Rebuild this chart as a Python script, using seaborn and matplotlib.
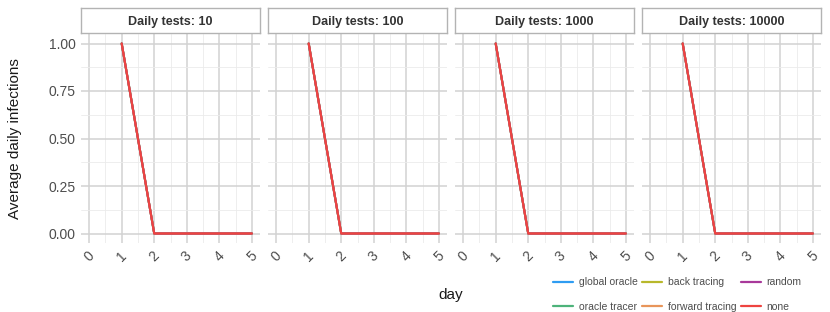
import numpy as np
import pandas as pd
import seaborn as sns
import matplotlib
matplotlib.use("Agg")
import matplotlib.pyplot as plt

sns.set_theme(style="white")
plt.rcParams['font.family'] = ['Liberation Sans', 'DejaVu Sans']

# ---- data ----
daily_tests = [10, 100, 1000, 10000]
strategies = ["global oracle", "oracle tracer", "back tracing", "forward tracing", "random", "none"]
colors = ["#2E9CF2", "#4DB37A", "#B8B82B", "#E8955A", "#A8399A", "#EE4440"]
days = [1, 2, 3, 4, 5]
infections = [1.0, 0.0, 0.0, 0.0, 0.0]
x_ticks = [0, 1, 2, 3, 4, 5]
y_ticks = [0.0, 0.25, 0.5, 0.75, 1.0]

rows = []
for t in daily_tests:
    for s in strategies:
        for d, v in zip(days, infections):
            rows.append({"tests": t, "strategy": s, "day": d, "infections": v})
df = pd.DataFrame(rows)
palette = dict(zip(strategies, colors))

W, H = 830, 312
fig = plt.figure(figsize=(W / 100, H / 100), dpi=100)

panel_left = [81, 268, 455, 642]
pw = 179
ptop, pbot = 34, 243
stop, sbot = 8, 33

for i, (t, pl) in enumerate(zip(daily_tests, panel_left)):
    ax = fig.add_axes([pl / W, 1 - pbot / H, pw / W, (pbot - ptop) / H])
    sub = df[df.tests == t]
    sns.lineplot(data=sub, x="day", y="infections", hue="strategy", hue_order=strategies,
                 palette=palette, ax=ax, linewidth=1.5, legend=False, zorder=3)
    ax.set_xlim(-0.25, 5.25)
    ax.set_ylim(-0.05, 1.05)
    ax.set_xticks(x_ticks)
    ax.set_xticks(np.arange(0.5, 5, 1), minor=True)
    ax.set_yticks(y_ticks)
    ax.set_yticks([0.125, 0.375, 0.625, 0.875], minor=True)
    ax.grid(which="major", color="#D2D2D2", linewidth=1.1, zorder=0)
    ax.grid(which="minor", color="#EBEBEB", linewidth=0.6, zorder=0)
    ax.set_axisbelow(True)
    for sp in ax.spines.values():
        sp.set_visible(False)
    ax.tick_params(which="both", length=0)
    ax.set_xticklabels([str(x) for x in x_ticks], rotation=45, ha="center",
                       fontsize=10, color="#4D4D4D")
    ax.tick_params(axis="x", pad=4)
    if i == 0:
        ax.set_yticklabels(["0.00", "0.25", "0.50", "0.75", "1.00"], fontsize=10, color="#4D4D4D")
        ax.tick_params(axis="y", pad=4)
        ax.set_ylabel("Average daily infections", fontsize=11, color="#1A1A1A", labelpad=19)
    else:
        ax.set_yticklabels([])
        ax.set_ylabel("")
    ax.set_xlabel("")

    # strip
    sax = fig.add_axes([pl / W, 1 - sbot / H, pw / W, (sbot - stop) / H])
    sax.set_xticks([]); sax.set_yticks([])
    sax.set_facecolor("white")
    for sp in sax.spines.values():
        sp.set_visible(True)
        sp.set_color("#B3B3B3")
        sp.set_linewidth(1.0)
    sax.text(0.5, 0.5, f"Daily tests: {t}", ha="center", va="center_baseline",
             fontsize=9, fontweight="bold", color="#333333", transform=sax.transAxes)

fig.text((81 + 821) / 2 / W, 1 - 295 / H, "day", ha="center", va="center",
         fontsize=11, color="#1A1A1A")

handles = [plt.Line2D([], [], color=c, linewidth=1.6) for c in colors]
fig.legend(handles, strategies, loc="center left", bbox_to_anchor=(553 / W, 1 - 294.5 / H),
           ncol=3, frameon=False, fontsize=7.5, handlelength=1.9, handletextpad=0.55,
           columnspacing=0.45, labelspacing=1.35, borderpad=0, borderaxespad=0,
           labelcolor="#4D4D4D")

fig.savefig("out.png", dpi=100)
